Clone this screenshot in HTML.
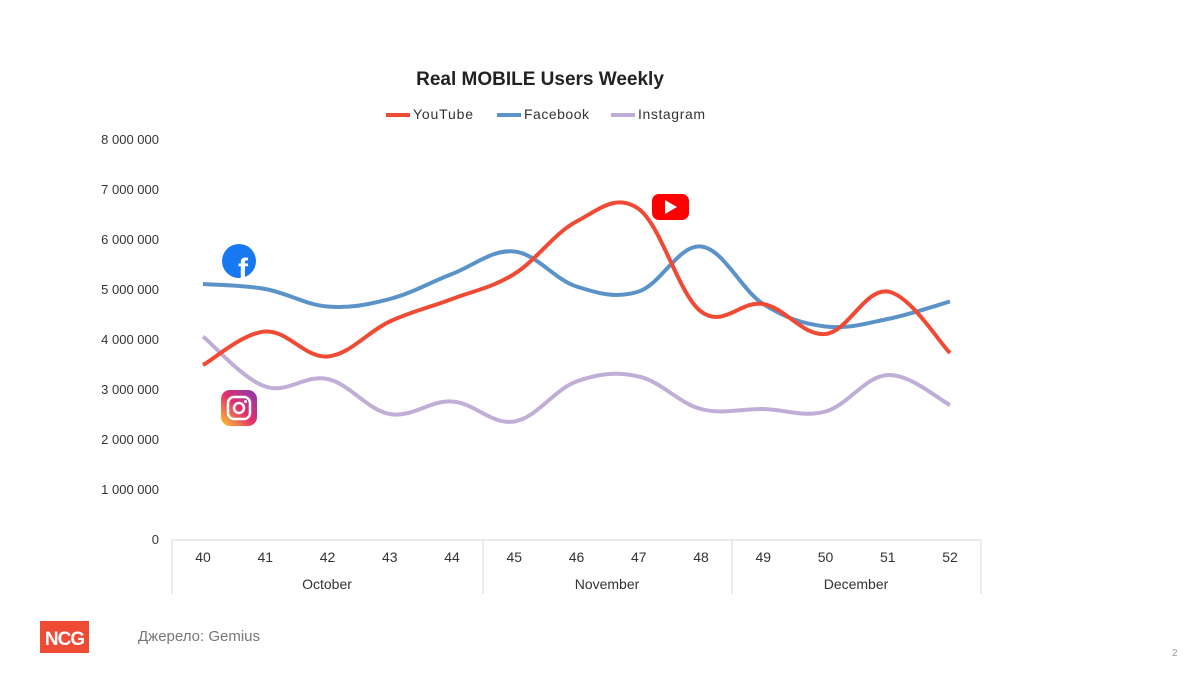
<!DOCTYPE html>
<html><head><meta charset="utf-8"><style>
body{margin:0;background:#fff;width:1200px;height:675px;overflow:hidden;font-family:"Liberation Sans",sans-serif}
</style></head><body>
<svg id="s" width="1200" height="675" xmlns="http://www.w3.org/2000/svg" font-family="Liberation Sans, sans-serif">
<text x="540" y="85" font-size="19" font-weight="bold" text-anchor="middle" fill="#222">Real MOBILE Users Weekly</text>
<line x1="386" y1="115" x2="410" y2="115" stroke="#ef4b34" stroke-width="4"/>
<text x="413" y="119" font-size="14" fill="#333" textLength="60">YouTube</text>
<line x1="497" y1="115" x2="521" y2="115" stroke="#5b93c9" stroke-width="4"/>
<text x="524" y="119" font-size="14" fill="#333" textLength="65">Facebook</text>
<line x1="611" y1="115" x2="635" y2="115" stroke="#c0aed6" stroke-width="4"/>
<text x="638" y="119" font-size="14" fill="#333" textLength="67">Instagram</text>
<g font-size="13" fill="#333" text-anchor="end">
<text x="159" y="144">8 000 000</text><text x="159" y="194">7 000 000</text><text x="159" y="244">6 000 000</text><text x="159" y="294">5 000 000</text><text x="159" y="344">4 000 000</text><text x="159" y="394">3 000 000</text><text x="159" y="444">2 000 000</text><text x="159" y="494">1 000 000</text><text x="159" y="544">0</text>
</g>
<g stroke="#d9d9d9" stroke-width="1">
<line x1="172" y1="540" x2="981" y2="540"/>
<line x1="172" y1="540" x2="172" y2="594"/><line x1="483" y1="540" x2="483" y2="594"/><line x1="732" y1="540" x2="732" y2="594"/><line x1="981" y1="540" x2="981" y2="594"/>
</g>
<g id="xl" font-size="14" fill="#333" text-anchor="middle"></g>
<g font-size="14" fill="#333" text-anchor="middle">
<text x="327" y="589">October</text><text x="607" y="589">November</text><text x="856" y="589">December</text></g>
<path id="ig" fill="none" stroke="#c0aed6" stroke-width="4"/>
<path id="fb" fill="none" stroke="#5b93c9" stroke-width="4"/>
<path id="yt" fill="none" stroke="#ef4b34" stroke-width="4"/>
<circle cx="239" cy="261" r="17" fill="#1877f2"/>
<text x="243" y="279" font-size="30" font-weight="bold" fill="#fff" text-anchor="middle">f</text>
<defs><linearGradient id="g" x1="0" y1="1" x2="1" y2="0"><stop offset="0" stop-color="#fdc830"/><stop offset=".5" stop-color="#e1306c"/><stop offset="1" stop-color="#833ab4"/></linearGradient></defs>
<rect x="221" y="390" width="36" height="36" rx="9" fill="url(#g)"/>
<rect x="228" y="397" width="22" height="22" rx="6" fill="none" stroke="#fff" stroke-width="2.5"/>
<circle cx="239" cy="408" r="5" fill="none" stroke="#fff" stroke-width="2.5"/>
<circle cx="245.5" cy="401.5" r="1.5" fill="#fff"/>
<rect x="652" y="194" width="37" height="26" rx="7" fill="#f00"/>
<polygon points="665,200 665,214 677,207" fill="#fff"/>
<rect x="40" y="621" width="49" height="32" fill="#ef4b34"/>
<text x="64.5" y="645" font-size="19" font-weight="bold" fill="#fff" text-anchor="middle" letter-spacing="-1">NCG</text>
<text x="138" y="641" font-size="15" fill="#777">Джерело: Gemius</text>
<text x="1172" y="656" font-size="10" fill="#999">2</text>
</svg>
<script>
var X=i=>203+i*62.25, Y=v=>539-v*50;
var d={yt:[3.48,4.15,3.65,4.35,4.8,5.3,6.35,6.6,4.55,4.7,4.1,4.95,3.72],
fb:[5.1,5.0,4.65,4.8,5.3,5.75,5.05,4.95,5.85,4.7,4.25,4.4,4.75],
ig:[4.05,3.05,3.2,2.5,2.75,2.35,3.15,3.25,2.6,2.6,2.55,3.28,2.68]};
for(var k in d){var p=d[k].map((v,i)=>[X(i),Y(v)]),s="M"+p[0];
for(var i=0;i<p.length-1;i++){var a=p[i-1]||p[i],b=p[i],c=p[i+1],e=p[i+2]||c,t=0.18;
s+=" C"+(b[0]+(c[0]-a[0])*t)+","+(b[1]+(c[1]-a[1])*t)+" "+(c[0]-(e[0]-b[0])*t)+","+(c[1]-(e[1]-b[1])*t)+" "+c;}
document.getElementById(k).setAttribute("d",s);}
var g=document.getElementById("xl");
for(var i=0;i<13;i++){var t=document.createElementNS("http://www.w3.org/2000/svg","text");t.setAttribute("x",X(i));t.setAttribute("y",562);t.textContent=40+i;g.appendChild(t);}
</script>
</body></html>
